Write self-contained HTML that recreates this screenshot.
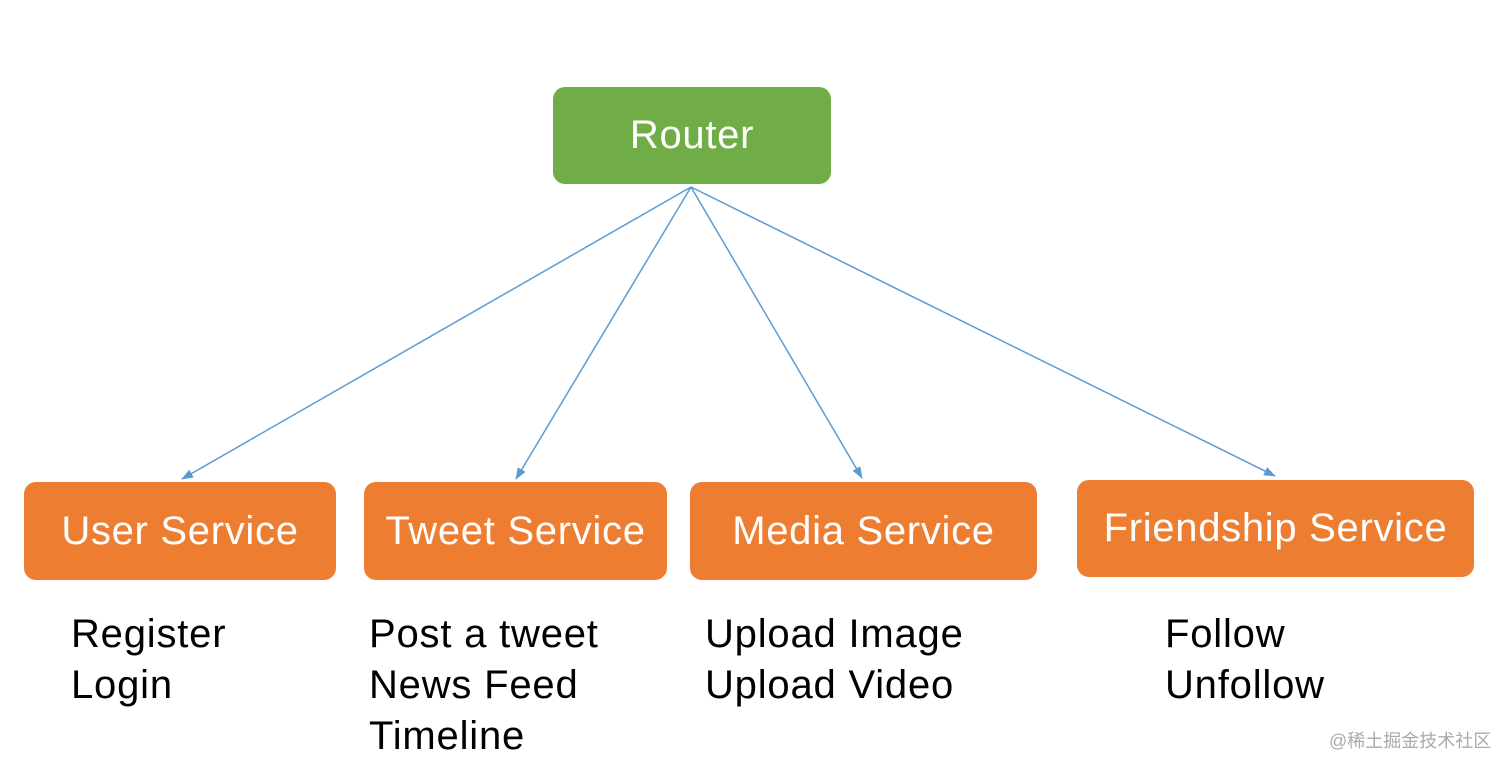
<!DOCTYPE html>
<html><head><meta charset="utf-8"><style>
body{margin:0;width:1512px;height:769px;background:#fff;position:relative;overflow:hidden;font-family:"Liberation Sans",Arial,sans-serif}
.b{position:absolute;color:#fff;font-size:40px;letter-spacing:0.7px;display:flex;align-items:center;justify-content:center;border-radius:12px}
.o{background:#ed7d31}
.t{position:absolute;font-size:40px;letter-spacing:0.8px;line-height:51px;color:#000}
.w{position:absolute;left:1329px;top:727px;font-size:18px;color:#aaa;font-family:"Liberation Sans","Noto Sans CJK SC",sans-serif}
</style></head><body>
<svg width="1512" height="769" style="position:absolute;left:0;top:0">
<defs><marker id="a" markerWidth="12" markerHeight="9" refX="11" refY="4.5" orient="auto" markerUnits="userSpaceOnUse"><path d="M0,0L12,4.5L0,9z" fill="#5b9bd5"/></marker></defs>
<g stroke="#5b9bd5" stroke-width="1.5" fill="none" marker-end="url(#a)">
<line x1="691" y1="187" x2="182" y2="479"/>
<line x1="691" y1="187" x2="516" y2="479"/>
<line x1="691" y1="187" x2="862" y2="478"/>
<line x1="691" y1="187" x2="1275" y2="476"/>
</g></svg>
<div class="b" style="left:553px;top:87px;width:278px;height:97px;background:#70ad47">Router</div>
<div class="b o" style="left:24px;top:482px;width:312px;height:98px">User Service</div>
<div class="b o" style="left:364px;top:482px;width:303px;height:98px">Tweet Service</div>
<div class="b o" style="left:690px;top:482px;width:347px;height:98px">Media Service</div>
<div class="b o" style="left:1077px;top:480px;width:397px;height:97px">Friendship Service</div>
<div class="t" style="left:71px;top:609px">Register<br>Login</div>
<div class="t" style="left:369px;top:609px">Post a tweet<br>News Feed<br>Timeline</div>
<div class="t" style="left:705px;top:609px">Upload Image<br>Upload Video</div>
<div class="t" style="left:1165px;top:609px">Follow<br>Unfollow</div>
<div class="w">@稀土掘金技术社区</div>
</body></html>
